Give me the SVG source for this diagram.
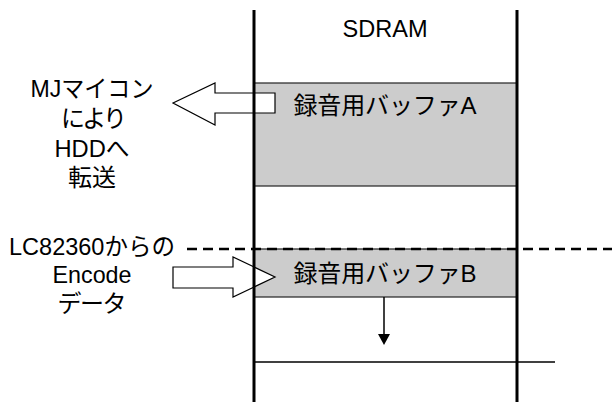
<svg xmlns="http://www.w3.org/2000/svg" width="612" height="402" viewBox="0 0 612 402">
  <style>
    .lbl { font-family: "Liberation Sans", "Noto Sans CJK JP", sans-serif; font-size: 24px; fill: #000; text-anchor: middle; }
    .buf { fill: #cccccc; stroke: #222; stroke-width: 1.2; }
    .hollow { fill: #fff; stroke: #000; stroke-width: 1.2; stroke-linejoin: miter; }
    .wall { stroke: #000; stroke-width: 3; fill: none; }
    .thin { stroke: #000; stroke-width: 1.5; fill: none; }
    .dash { stroke: #000; stroke-width: 2.5; stroke-dasharray: 10 6; fill: none; }
  </style>

  <!-- memory buffers -->
  <g id="bufferA">
    <rect class="buf" x="254" y="83" width="263" height="103"/>
    <text class="lbl" x="385" y="114" textLength="183" lengthAdjust="spacing">録音用バッファA</text>
  </g>
  <g id="bufferB">
    <rect class="buf" x="254" y="249" width="263" height="48"/>
    <text class="lbl" x="385" y="282" textLength="183" lengthAdjust="spacing">録音用バッファB</text>
  </g>

  <!-- transfer arrows and guide lines -->
  <g id="connectors">
    <polygon class="hollow" points="275,93 215,93 215,83 173,103 215,125 215,113 275,113"/>
    <polygon class="hollow" points="173,267 233,267 233,257 275,277 233,297 233,288 173,288"/>
    <line class="dash" x1="187" y1="249" x2="612" y2="249"/>
    <line class="thin" x1="254" y1="362" x2="555" y2="362"/>
    <line class="thin" x1="384" y1="297" x2="384" y2="335"/>
    <polygon points="378,334 390,334 384,345" fill="#000"/>
  </g>

  <!-- SDRAM column walls -->
  <g id="sdram">
    <line class="wall" x1="254" y1="10" x2="254" y2="402"/>
    <line class="wall" x1="517" y1="10" x2="517" y2="402"/>
    <text class="lbl" x="385" y="37" textLength="85" lengthAdjust="spacingAndGlyphs">SDRAM</text>
  </g>

  <g id="label-transfer">
    <text class="lbl" x="92" y="97" textLength="123" lengthAdjust="spacingAndGlyphs">MJマイコン</text>
    <text class="lbl" x="94" y="127" textLength="66" lengthAdjust="spacing">により</text>
    <text class="lbl" x="92" y="157" textLength="75" lengthAdjust="spacingAndGlyphs">HDDへ</text>
    <text class="lbl" x="92" y="186" textLength="48" lengthAdjust="spacing">転送</text>
  </g>

  <g id="label-encode">
    <text class="lbl" x="92" y="255" textLength="166" lengthAdjust="spacingAndGlyphs">LC82360からの</text>
    <text class="lbl" x="92" y="283" textLength="79" lengthAdjust="spacingAndGlyphs">Encode</text>
    <text class="lbl" x="92" y="312" textLength="69" lengthAdjust="spacing">データ</text>
  </g>
</svg>
